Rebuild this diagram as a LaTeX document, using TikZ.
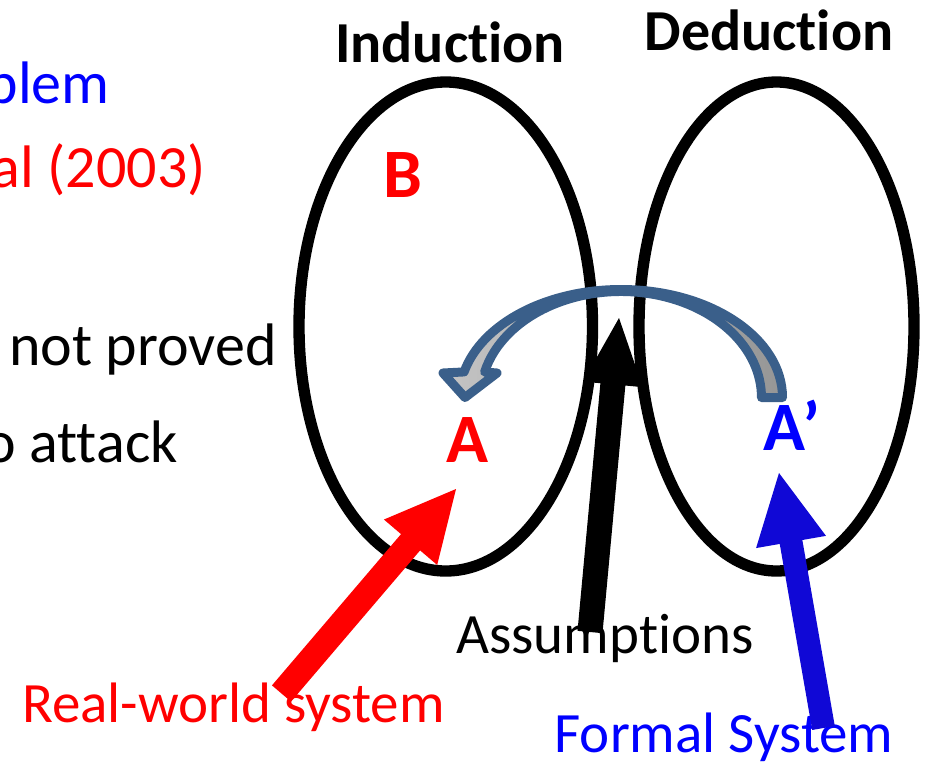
\documentclass[tikz,border=0pt]{standalone}
\usepackage{fontspec}
\setmainfont{Carlito}[Ligatures=CommonOff]
\usetikzlibrary{calc}
\definecolor{arcblue}{RGB}{58,95,138}
\definecolor{arrowblue}{RGB}{16,8,214}
\definecolor{txtblue}{RGB}{0,0,255}
\definecolor{txtred}{RGB}{255,0,0}
\definecolor{arcgrayA}{RGB}{196,196,196}
\definecolor{arcgrayB}{RGB}{150,150,150}
% #1 tail, #2 tip, #3 half shaft width, #4 half head width, #5 head length, #6 colour
\newcommand\fatarrow[6]{%
  \path ($(#2)!#5!(#1)$) coordinate (fatbase);
  \fill[#6] ($(#1)!#3!90:(#2)$) -- ($(fatbase)!#3!90:(#2)$) -- ($(fatbase)!#4!90:(#2)$)
     -- (#2) -- ($(fatbase)!#4!-90:(#2)$) -- ($(fatbase)!#3!-90:(#2)$)
     -- ($(#1)!#3!-90:(#2)$) -- cycle;}
\begin{document}
\begin{tikzpicture}[x=0.75pt,y=-0.75pt,
  ell/.style={draw=black,line width=8.5pt},
  head/.style={font=\bfseries\fontsize{43.5}{50}\selectfont,anchor=base,inner sep=0pt},
  letter/.style={font=\bfseries\fontsize{52}{60}\selectfont,anchor=base,inner sep=0pt},
  body/.style={font=\fontsize{45}{54}\selectfont,anchor=base east,inner sep=0pt},
  label/.style={font=\fontsize{42.75}{50}\selectfont,anchor=base,inner sep=0pt}]
\useasboundingbox (0,0) rectangle (938,761);
\fill[white] (0,0) rectangle (938,761);

% left cropped text
\node[body,text=txtblue] (t1) at (110,103) {blem};
\node[body,text=txtred] (t2) at (206,187) {al (2003)};
\node[body] (t3) at (277,365) {not proved};
\node[body] (t4) at (178,462) {o attack};

% ellipses
\draw[ell] (445.75,326.5) ellipse[x radius=146.75, y radius=244.5];
\draw[ell] (776.5,326.5) ellipse[x radius=137.5, y radius=244.5];

% headings
\node[head] (ind) at (450,62) {Induction};
\node[head] (ded) at (769,50) {Deduction};

% letters
\node[letter,text=txtred] (B) at (402.5,197) {B};
\node[letter,text=txtred] (A) at (467,462) {A};
\node[letter,text=txtblue] (Ap) at (791.5,450) {A’};

% bottom labels
\node[label] (assum) at (605,653) {Assumptions};
\node[label,text=txtred] (real) at (233.5,722) {Real-world system};
\node[label,text=txtblue] (formal) at (724,752) {Formal System};

% thick arrows
\coordinate (btail) at (590,632);
\coordinate (btip) at (619,318);
\coordinate (rtail) at (281.5,693.5);
\coordinate (rtip) at (456,489);
\coordinate (ftail) at (823.5,728);
\coordinate (ftip) at (779,473);
\fatarrow{btail}{btip}{9.4pt}{22.5pt}{50pt}{black}
\fatarrow{rtail}{rtip}{9.4pt}{26.25pt}{52.5pt}{txtred}
\fatarrow{ftail}{ftip}{8.6pt}{26.6pt}{52.5pt}{arrowblue}

% curved arrow from A' to A
\shadedraw[draw=arcblue,line width=6.75pt,line join=round,
  left color=arcgrayA,right color=arcgrayB]
  (782.5,397.5) arc[start angle=0,end angle=-166.3,x radius=161.5,y radius=108]
  -- (443,373) -- (465,397.5) -- (497,373) -- (484.6,372)
  arc[start angle=-166.08,end angle=0,x radius=140.5,y radius=106] -- cycle;
\end{tikzpicture}
\end{document}
